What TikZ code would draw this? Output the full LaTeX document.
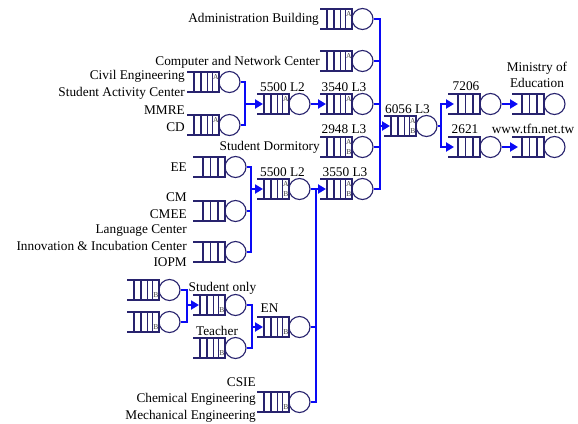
\documentclass[tikz,border=0pt]{standalone}
\usepackage{fontspec}
\setmainfont{Liberation Serif}
\usetikzlibrary{arrows.meta}
\definecolor{qnavy}{RGB}{40,35,110}
\definecolor{linkblue}{RGB}{10,10,245}
\tikzset{
	lbl/.style={font=\fontsize{13.3}{16.5}\selectfont, inner sep=0pt},
	qline/.style={draw=qnavy, line width=1.1pt},
	server/.style={circle, draw=qnavy, line width=1.1pt, minimum size=21pt, inner sep=0pt},
	tag/.style={font=\fontsize{7.5}{7.5}\selectfont, text=black!75, inner sep=0pt},
	link/.style={draw=linkblue, line width=2.6pt},
	flow/.style={link, -{Triangle[length=8pt,width=9pt]}},
	% plain queue with its server
	pics/queue/.style={code={
		\draw[qline] (0,-10) -- (32,-10) -- (32,10) -- (0,10);
		\foreach \v in {10,17.5,25} \draw[qline] (\v,-10) -- (\v,10);
		\node[server] (-srv) at (42.5,0) {};
		\coordinate (-in) at (6,0);
	}},
	% queue with a small class cell (top letter, bottom letter)
	pics/lqueue/.style 2 args={code={
		\draw[qline] (0,-10) -- (32,-10) -- (32,10) -- (0,10);
		\foreach \v in {7,14,20.5,25.5} \draw[qline] (\v,-10) -- (\v,10);
		\node[tag] (-top) at (28.75,-5) {#1};
		\node[tag] (-bot) at (28.75,5) {#2};
		\node[server] (-srv) at (42.5,0) {};
		\coordinate (-in) at (6,0);
	}}
}
\begin{document}
\begin{tikzpicture}[x=1pt,y=-1pt]
	\useasboundingbox (0,0) rectangle (578,423);

	% Main column of queues
	\pic (adm) at (320,19) {lqueue={A}{}};
	\pic (cnc) at (320,61) {lqueue={A}{}};
	\pic (q3540) at (320,104) {lqueue={A}{}};
	\pic (q2948) at (320,147) {lqueue={A}{B}};
	\pic (q3550) at (320,189) {lqueue={A}{B}};

	% Core and outside links
	\pic (q6056) at (384,126) {lqueue={A}{B}};
	\pic (q7206) at (448,104) {queue};
	\pic (q2621) at (448,147) {queue};
	\pic (moe) at (512,104) {queue};
	\pic (tfn) at (512,147) {queue};

	% Upper left group
	\pic (civ) at (187,82) {lqueue={A}{}};
	\pic (cd) at (187,125) {lqueue={A}{}};
	\pic (q5500a) at (257,104) {lqueue={A}{}};

	% Middle group
	\pic (ee) at (193,167) {queue};
	\pic (cm) at (193,211) {queue};
	\pic (iopm) at (193,252) {queue};
	\pic (q5500b) at (257,189) {lqueue={A}{B}};

	% Lower group
	\pic (b1) at (127,290) {lqueue={}{B}};
	\pic (b2) at (127,322) {lqueue={}{B}};
	\pic (stu) at (193,305) {lqueue={}{B}};
	\pic (tea) at (193,348) {lqueue={}{B}};
	\pic (en) at (257,327) {lqueue={}{B}};
	\pic (csie) at (257,402) {lqueue={}{B}};

	% Bus junctions
	\coordinate (jtop) at (245,104);
	\coordinate (jmain) at (380,126);
	\coordinate (jsplit) at (441,126);
	\coordinate (jmid) at (251,189);
	\coordinate (jlow) at (316,189);
	\coordinate (jsmall) at (187,305);
	\coordinate (jen) at (252,327);

	% Links
	\foreach \n in {civ,cd} \draw[link] (\n-srv.east) -| (jtop);
	\draw[flow] (jtop) -- (q5500a-in);
	\draw[flow] (q5500a-srv.east) -- (q3540-in);
	\foreach \n in {adm,cnc,q3540,q2948,q3550} \draw[link] (\n-srv.east) -| (jmain);
	\draw[flow] (jmain) -- (q6056-in);
	\draw[link] (q6056-srv.east) -- (jsplit);
	\draw[flow] (jsplit) |- (q7206-in);
	\draw[flow] (jsplit) |- (q2621-in);
	\draw[flow] (q7206-srv.east) -- (moe-in);
	\draw[flow] (q2621-srv.east) -- (tfn-in);
	\foreach \n in {ee,cm,iopm} \draw[link] (\n-srv.east) -| (jmid);
	\draw[flow] (jmid) -- (q5500b-in);
	\draw[flow] (q5500b-srv.east) -- (q3550-in);
	\foreach \n in {en,csie} \draw[link] (\n-srv.east) -| (jlow);
	\foreach \n in {b1,b2} \draw[link] (\n-srv.east) -| (jsmall);
	\draw[flow] (jsmall) -- (stu-in);
	\foreach \n in {stu,tea} \draw[link] (\n-srv.east) -| (jen);
	\draw[flow] (jen) -- (en-in);

	% Labels
	\node[lbl, anchor=east] (admlbl) at (319,19) {Administration Building};
	\node[lbl, anchor=east] (cnclbl) at (320,62) {Computer and Network Center};
	\node[lbl, anchor=east, align=right] (civlbl) at (185,85) {Civil Engineering\\Student Activity Center};
	\node[lbl, anchor=east, align=right] (cdlbl) at (185,118.5) {MMRE\\CD};
	\node[lbl] (l5500a) at (282.5,87) {5500 L2};
	\node[lbl] (l3540) at (344,87) {3540 L3};
	\node[lbl] (l2948) at (344,129) {2948 L3};
	\node[lbl, anchor=east] (dormlbl) at (320,147) {Student Dormitory};
	\node[lbl] (l3550) at (345,172) {3550 L3};
	\node[lbl] (l5500b) at (282.5,172) {5500 L2};
	\node[lbl] (l6056) at (407.5,109) {6056 L3};
	\node[lbl] (l7206) at (466,86) {7206};
	\node[lbl] (l2621) at (465,129) {2621};
	\node[lbl, align=center] (moelbl) at (537,75) {Ministry of\\Education};
	\node[lbl] (tfnlbl) at (533,129) {www.tfn.net.tw};
	\node[lbl, anchor=east] (eelbl) at (187,167) {EE};
	\node[lbl, anchor=east, align=right] (cmlbl) at (187,205.5) {CM\\CMEE};
	\node[lbl, anchor=east, align=right] (iopmlbl) at (187,246) {Language Center\\Innovation \& Incubation Center\\IOPM};
	\node[lbl] (stulbl) at (222.5,288) {Student only};
	\node[lbl] (tealbl) at (217,331) {Teacher};
	\node[lbl] (enlbl) at (269.5,308) {EN};
	\node[lbl, anchor=east, align=right] (csielbl) at (256,400) {CSIE\\Chemical Engineering\\Mechanical Engineering};
\end{tikzpicture}
\end{document}
